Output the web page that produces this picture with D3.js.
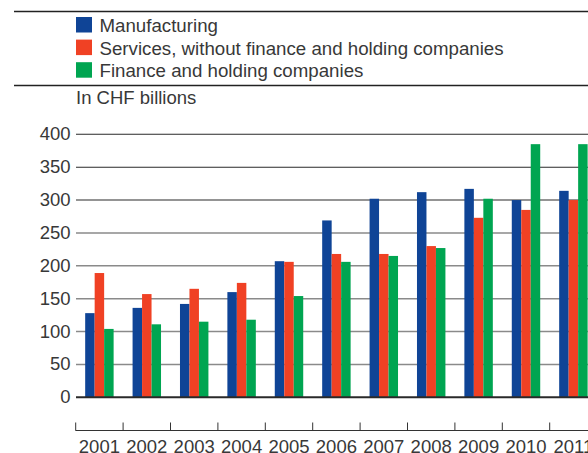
<!DOCTYPE html>
<html>
<head>
<meta charset="utf-8">
<script src="https://cdn.jsdelivr.net/npm/d3@7"></script>
<style>
  html, body { margin: 0; padding: 0; background: #fff; }
  svg { display: block; }
  text { font-family: "Liberation Sans", Arial, sans-serif; fill: #383838; }
</style>
</head>
<body>
<svg id="chart" width="588" height="453"></svg>
<script>
// Foreign direct investment stock by sector, CHF billions
const years = ["2001","2002","2003","2004","2005","2006","2007","2008","2009","2010","2011"];
const seriesNames = [
  "Manufacturing",
  "Services, without finance and holding companies",
  "Finance and holding companies"
];
const manufacturing = [128, 136, 142, 160, 207, 269, 302, 312, 317, 300, 314];
const services      = [189, 157, 165, 174, 206, 218, 218, 230, 273, 285, 300];
const finance       = [104, 111, 115, 118, 154, 206, 215, 227, 302, 385, 385];
const yTicks = [0, 50, 100, 150, 200, 250, 300, 350, 400];
const unitLabel = "In CHF billions";

const colors = ["#0f4496", "#f04124", "#00a551"];
const values = [manufacturing, services, finance];

const svg = d3.select("#chart");
const W = 588;

// Legend block framed by two rules
svg.append("line").attr("x1", 14).attr("x2", W).attr("y1", 11.5).attr("y2", 11.5)
  .attr("stroke", "#222").attr("stroke-width", 1.3);
svg.append("line").attr("x1", 14).attr("x2", W).attr("y1", 85.5).attr("y2", 85.5)
  .attr("stroke", "#222").attr("stroke-width", 1.3);

const legend = svg.append("g");
seriesNames.forEach((name, i) => {
  const y = 17 + i * 22.6;
  legend.append("rect").attr("x", 76).attr("y", y).attr("width", 16).attr("height", 15.5)
    .attr("fill", colors[i]);
  legend.append("text").attr("x", 99.5).attr("y", y + 15)
    .attr("font-size", 18.7).text(name);
});

svg.append("text").attr("x", 76).attr("y", 104.3).attr("font-size", 18.5).text(unitLabel);

// Scales
const x0 = d3.scaleBand().domain(years).range([75.7, 75.7 + 47.4 * years.length])
  .paddingInner(0).paddingOuter(0);
const x1 = d3.scaleBand().domain(d3.range(seriesNames.length)).range([0, x0.bandwidth()])
  .paddingInner(0).paddingOuter(1);
const y = d3.scaleLinear().domain([0, 400]).range([397.3, 134.3]);

// Horizontal gridlines with value labels
const grid = svg.append("g");
yTicks.forEach(t => {
  if (t === 0) return;
  const dark = t >= 300;
  grid.append("line").attr("x1", 76).attr("x2", W)
    .attr("y1", y(t)).attr("y2", y(t))
    .attr("stroke", dark ? "#2a2a2a" : "#8a8a8a")
    .attr("stroke-width", dark ? 1.1 : 1.5);
});
yTicks.forEach(t => {
  svg.append("text").attr("x", 70.5).attr("y", y(t) + 6)
    .attr("text-anchor", "end").attr("font-size", 18.5).text(t);
});

// Grouped bars
const groups = svg.append("g").selectAll("g").data(years).join("g")
  .attr("transform", d => `translate(${x0(d)},0)`);
groups.selectAll("rect")
  .data((d, yi) => values.map((s, si) => ({ si, v: s[yi] })))
  .join("rect")
  .attr("x", d => x1(d.si))
  .attr("width", x1.bandwidth())
  .attr("y", d => y(d.v))
  .attr("height", d => y(0) - y(d.v))
  .attr("fill", d => colors[d.si]);

// Zero baseline
svg.append("line").attr("x1", 76).attr("x2", W).attr("y1", y(0)).attr("y2", y(0))
  .attr("stroke", "#2a2a2a").attr("stroke-width", 2);

// Category axis below the plot
const axisY = 430.5;
const xAxis = svg.append("g");
xAxis.append("line").attr("x1", 75.5).attr("x2", W).attr("y1", axisY).attr("y2", axisY)
  .attr("stroke", "#333").attr("stroke-width", 1.2);
years.forEach(yr => {
  xAxis.append("line").attr("x1", x0(yr)).attr("x2", x0(yr))
    .attr("y1", axisY - 8).attr("y2", axisY)
    .attr("stroke", "#333").attr("stroke-width", 1);
  xAxis.append("text").attr("x", x0(yr) + x0.bandwidth() / 2).attr("y", 453)
    .attr("text-anchor", "middle").attr("font-size", 18.5).text(yr);
});
</script>
</body>
</html>
